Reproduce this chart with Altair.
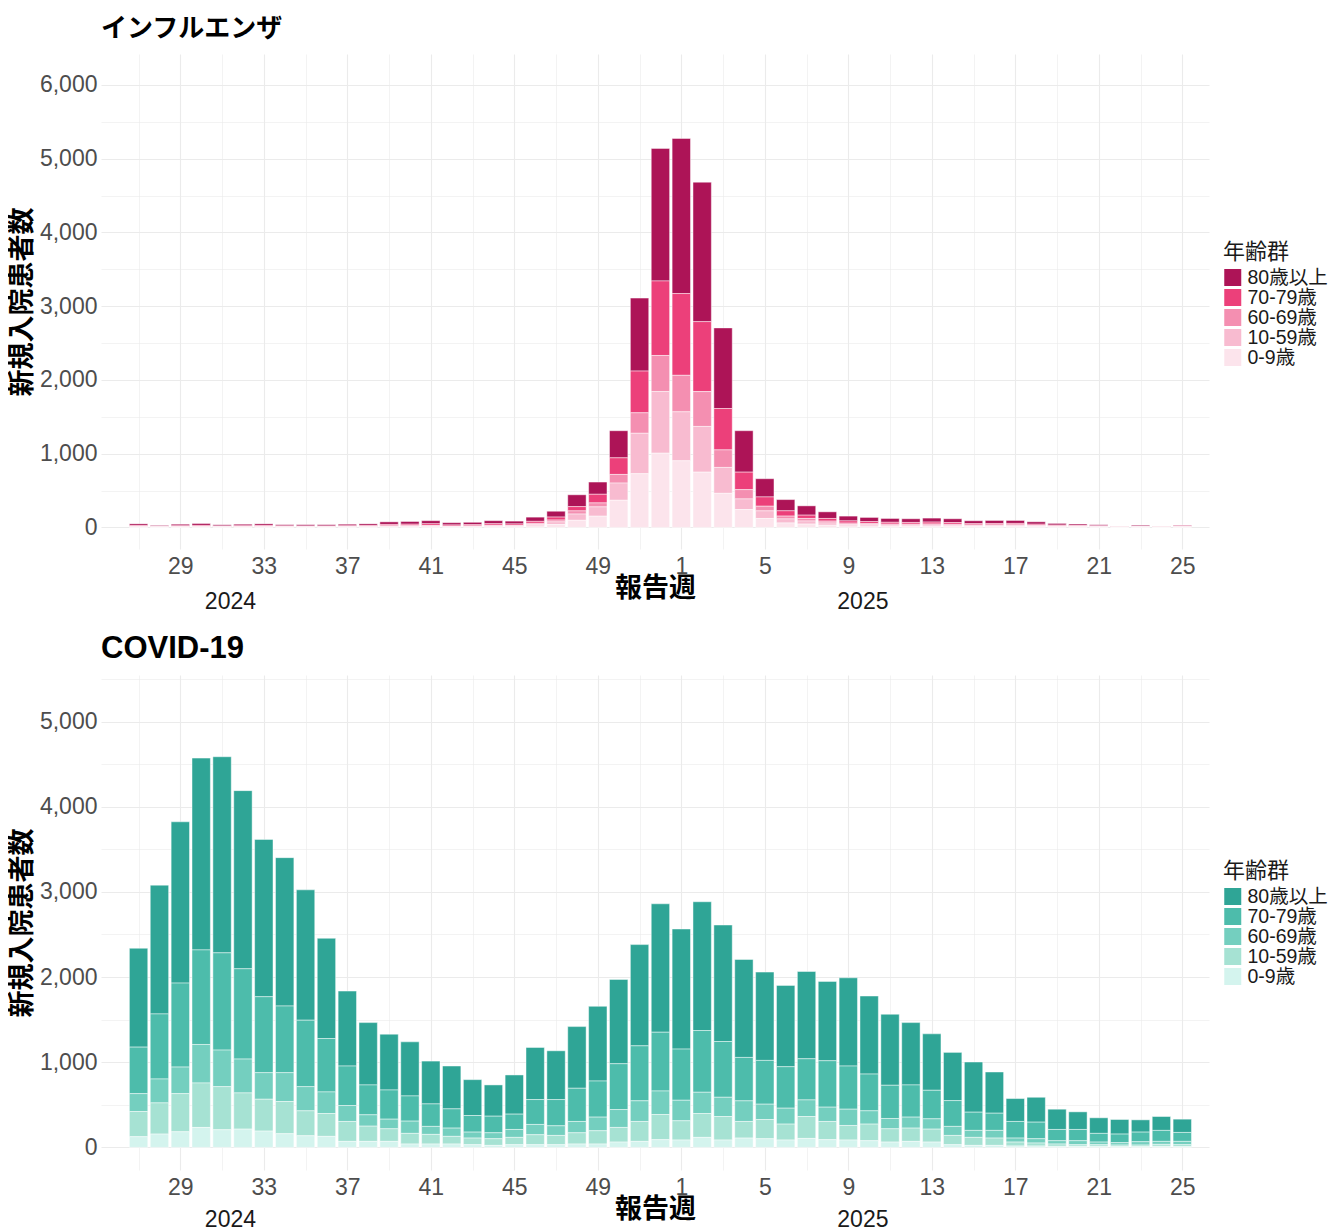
import json
import altair as alt
import pandas as pd

# ---------------- data ----------------
weeks = list(range(27, 53)) + list(range(1, 26))
age_groups = ["80歳以上", "70-79歳", "60-69歳", "10-59歳", "0-9歳"]
year_labels = ["2024", "2025"]
year_label_pos = [4.4, 34.7]  # position in week-index units

flu_0_9 = [4, 2, 3, 4, 3, 3, 4, 3, 3, 3, 4, 4, 6, 7, 8, 5, 6, 9, 9, 20, 40, 96, 152, 368, 728, 1006,
           903, 749, 462, 243, 121, 60, 45, 30, 20, 18, 15, 15, 16, 15, 12, 12, 12, 10, 7, 6, 4, 2, 4, 2, 3]
flu_10_59 = [5, 3, 4, 5, 4, 4, 5, 4, 4, 3, 4, 5, 8, 8, 9, 6, 7, 10, 10, 20, 35, 85, 126, 233, 548, 836,
             664, 620, 351, 143, 103, 55, 42, 30, 20, 18, 15, 15, 16, 14, 11, 12, 12, 9, 7, 6, 5, 3, 4, 3, 5]
flu_60_69 = [5, 3, 4, 5, 4, 4, 5, 4, 3, 4, 4, 5, 7, 8, 9, 6, 7, 9, 8, 15, 25, 43, 54, 117, 278, 489,
             495, 472, 238, 126, 63, 38, 34, 25, 18, 15, 14, 13, 14, 13, 10, 10, 11, 8, 6, 5, 4, 2, 3, 2, 4]
flu_70_79 = [12, 7, 11, 13, 9, 11, 12, 9, 9, 9, 10, 12, 19, 20, 23, 16, 17, 22, 20, 27, 40, 58, 117, 225, 566, 1011,
             1109, 949, 561, 237, 126, 72, 45, 36, 30, 27, 25, 24, 26, 24, 18, 19, 19, 16, 11, 9, 8, 6, 7, 6, 10]
flu_80 = [22, 12, 21, 26, 17, 21, 22, 17, 18, 18, 21, 22, 35, 37, 42, 31, 32, 41, 38, 57, 79, 160, 166, 368, 989, 1797,
          2103, 1891, 1093, 562, 247, 152, 126, 90, 65, 57, 52, 50, 54, 51, 39, 41, 40, 33, 23, 19, 15, 5, 13, 5, 9]

cov_0_9 = [125, 156, 183, 234, 207, 214, 191, 160, 136, 129, 70, 70, 70, 39, 39, 39, 31, 23, 31, 31, 31, 39, 39, 62, 70, 90,
           86, 117, 86, 109, 101, 86, 105, 90, 86, 78, 62, 70, 62, 31, 23, 23, 16, 16, 12, 12, 12, 8, 8, 12, 8]
cov_10_59 = [296, 366, 448, 522, 506, 425, 374, 378, 293, 268, 234, 179, 148, 125, 113, 90, 78, 78, 86, 117, 109, 132, 156, 172, 234, 296,
             226, 280, 276, 195, 226, 187, 257, 214, 171, 195, 156, 156, 152, 109, 94, 86, 46, 35, 27, 19, 19, 19, 19, 23, 23]
cov_60_69 = [210, 281, 312, 452, 429, 398, 312, 339, 284, 254, 187, 133, 113, 144, 94, 97, 70, 70, 93, 121, 113, 133, 160, 210, 242, 276,
             241, 250, 226, 242, 180, 187, 195, 168, 191, 156, 121, 129, 121, 106, 82, 90, 47, 50, 39, 47, 31, 28, 39, 35, 39]
cov_70_79 = [546, 764, 986, 1111, 1142, 1060, 892, 783, 780, 627, 464, 351, 343, 296, 264, 226, 195, 195, 180, 292, 308, 390, 424, 538, 646, 690,
             601, 725, 655, 510, 514, 487, 483, 545, 507, 432, 390, 378, 335, 303, 214, 202, 195, 195, 132, 132, 102, 101, 113, 129, 105]
cov_80 = [1161, 1512, 1894, 2252, 2303, 2092, 1847, 1742, 1531, 1177, 880, 732, 655, 635, 503, 503, 421, 367, 460, 612, 573, 724, 877, 990, 1189, 1508,
          1410, 1512, 1368, 1150, 1037, 955, 1025, 932, 1036, 916, 834, 732, 663, 566, 589, 484, 269, 292, 238, 207, 183, 171, 144, 163, 156]

flu_colors = ["#AD1457", "#EC407A", "#F48FB1", "#F8BBD0", "#FCE4EC"]
cov_colors = ["#2FA596", "#4DBCAB", "#74CFBF", "#A6E2D3", "#D4F4EE"]

FONT = "Liberation Sans, Noto Sans CJK JP, sans-serif"
W, H = 1108, 495
week_arr = json.dumps([str(w) for w in weeks])


def make_panel(title, series, colors, y_domain, y_max_tick, title_size, title_offset, legend_y, year_dy):
    rows = []
    for i, wk in enumerate(weeks):
        for g_idx, g in enumerate(age_groups):
            rows.append({"i": i, "week": wk, "group": g, "rank": len(age_groups) - 1 - g_idx,
                         "value": series[g_idx][i]})
    df = pd.DataFrame(rows)

    x_scale = alt.Scale(domain=[-1.8, 51.28], nice=False, zero=False)
    x_axis = alt.Axis(
        values=list(range(0, len(weeks), 2)),
        labelExpr=f"(datum.value - 2) % 4 === 0 ? {week_arr}[datum.value] : ''",
        gridWidth={"condition": {"test": "(datum.value - 2) % 4 === 0", "value": 1.1}, "value": 0.6},
        labelOverlap=False, labelFlush=False, labelPadding=6, titlePadding=-3,
    )
    y_axis = alt.Axis(
        values=list(range(0, y_max_tick + 1, 500)),
        labelExpr="datum.value % 1000 === 0 ? format(datum.value, ',') : ''",
        gridWidth={"condition": {"test": "datum.value % 1000 === 0", "value": 1.1}, "value": 0.6},
        labelOverlap=False, labelPadding=4, titlePadding=3,
    )

    bars = alt.Chart(df).transform_calculate(
        lo="datum.i - 0.44", hi="datum.i + 0.44"
    ).transform_stack(
        stack="value", groupby=["i"], sort=[alt.SortField("rank", order="ascending")], as_=["y0", "y1"]
    ).mark_bar(stroke="white", strokeWidth=0.5, strokeOpacity=0.9).encode(
        x=alt.X("lo:Q", scale=x_scale, axis=x_axis, title="報告週"),
        x2="hi:Q",
        y=alt.Y("y0:Q", scale=alt.Scale(domain=y_domain, nice=False, zero=False), axis=y_axis,
                title="新規入院患者数"),
        y2="y1:Q",
        color=alt.Color("group:N", scale=alt.Scale(domain=age_groups, range=colors),
                        legend=alt.Legend(title="年齢群", orient="none", legendX=W + 14, legendY=legend_y,
                                          symbolType="square", symbolSize=289, symbolStrokeWidth=0,
                                          labelFontSize=19.5, titleFontSize=22, titleFontWeight="normal",
                                          rowPadding=0, clipHeight=19, labelOffset=5, titlePadding=4,
                                          labelColor="#1a1a1a", titleColor="#1a1a1a")),
    )

    years = alt.Chart(pd.DataFrame({"pos": year_label_pos, "label": year_labels})).mark_text(
        fontSize=23, color="#1a1a1a", baseline="middle", font=FONT
    ).encode(
        x=alt.X("pos:Q", scale=x_scale, title="報告週"),
        y=alt.value(H + year_dy),
        text="label:N",
    )

    return alt.layer(bars, years).properties(
        width=W, height=H,
        title=alt.TitleParams(title, anchor="start", frame="group", fontSize=title_size,
                              fontWeight="bold", color="#000000", offset=title_offset),
    )


flu = make_panel("インフルエンザ", [flu_80, flu_70_79, flu_60_69, flu_10_59, flu_0_9],
                 flu_colors, [-293, 6419], 6000, 26, 12, 188, 53)
cov = make_panel("COVID-19", [cov_80, cov_70_79, cov_60_69, cov_10_59, cov_0_9],
                 cov_colors, [-266, 5547], 5500, 31, 3, 186, 50)

chart = alt.vconcat(flu, cov, spacing=19).resolve_scale(color="independent").properties(
    padding={"left": 0, "top": 8, "right": 0, "bottom": 0}
).configure(font=FONT).configure_view(stroke=None).configure_axis(
    domain=False, ticks=False, gridColor="#ebebeb", labelColor="#4d4d4d", labelFontSize=23,
    titleFontSize=27, titleFontWeight="bold", titleColor="#000000", labelFont=FONT, titleFont=FONT,
)

chart.save("out.html", embed_options={"renderer": "svg", "actions": False})
